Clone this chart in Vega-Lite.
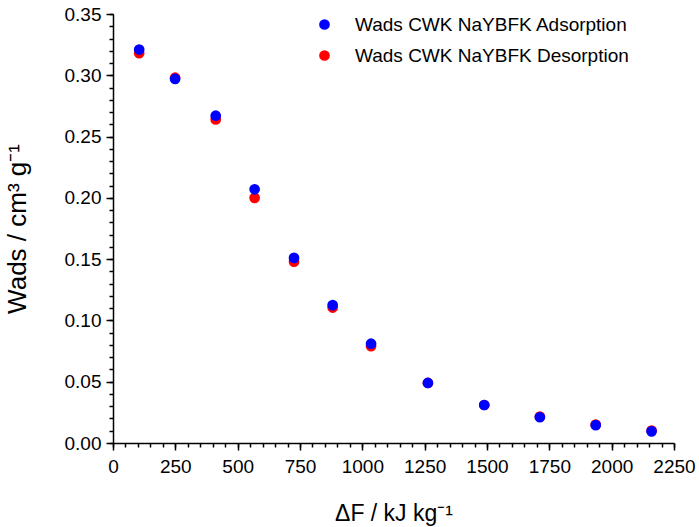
{
  "$schema": "https://vega.github.io/schema/vega-lite/v6.json",
  "autosize": {"type": "none"},
  "padding": {"left": 113, "top": 14, "right": 25, "bottom": 84},
  "width": 561,
  "height": 429,
  "background": "white",
  "config": {
    "view": {"stroke": null},
    "font": "Liberation Sans",
    "axis": {"grid": false, "domainColor": "#000", "tickColor": "#000", "labelColor": "#000", "titleColor": "#000", "domainWidth": 1.5, "tickWidth": 1.5, "labelFont": "Liberation Sans", "titleFont": "Liberation Sans", "titleFontWeight": "normal", "labelOverlap": false, "labelFlush": false, "labelBound": false}
  },
  "data": {
    "values": [
      {"dF": 105, "W": 0.318, "series": "Wads CWK NaYBFK Desorption"},
      {"dF": 249, "W": 0.298, "series": "Wads CWK NaYBFK Desorption"},
      {"dF": 412, "W": 0.264, "series": "Wads CWK NaYBFK Desorption"},
      {"dF": 568, "W": 0.200, "series": "Wads CWK NaYBFK Desorption"},
      {"dF": 726, "W": 0.148, "series": "Wads CWK NaYBFK Desorption"},
      {"dF": 881, "W": 0.1105, "series": "Wads CWK NaYBFK Desorption"},
      {"dF": 1035, "W": 0.079, "series": "Wads CWK NaYBFK Desorption"},
      {"dF": 1263, "W": 0.049, "series": "Wads CWK NaYBFK Desorption"},
      {"dF": 1489, "W": 0.031, "series": "Wads CWK NaYBFK Desorption"},
      {"dF": 1712, "W": 0.0215, "series": "Wads CWK NaYBFK Desorption"},
      {"dF": 1936, "W": 0.015, "series": "Wads CWK NaYBFK Desorption"},
      {"dF": 2160, "W": 0.0102, "series": "Wads CWK NaYBFK Desorption"},
      {"dF": 105, "W": 0.321, "series": "Wads CWK NaYBFK Adsorption"},
      {"dF": 249, "W": 0.297, "series": "Wads CWK NaYBFK Adsorption"},
      {"dF": 412, "W": 0.267, "series": "Wads CWK NaYBFK Adsorption"},
      {"dF": 568, "W": 0.207, "series": "Wads CWK NaYBFK Adsorption"},
      {"dF": 726, "W": 0.151, "series": "Wads CWK NaYBFK Adsorption"},
      {"dF": 881, "W": 0.1125, "series": "Wads CWK NaYBFK Adsorption"},
      {"dF": 1035, "W": 0.081, "series": "Wads CWK NaYBFK Adsorption"},
      {"dF": 1263, "W": 0.049, "series": "Wads CWK NaYBFK Adsorption"},
      {"dF": 1489, "W": 0.031, "series": "Wads CWK NaYBFK Adsorption"},
      {"dF": 1712, "W": 0.021, "series": "Wads CWK NaYBFK Adsorption"},
      {"dF": 1936, "W": 0.0145, "series": "Wads CWK NaYBFK Adsorption"},
      {"dF": 2160, "W": 0.0095, "series": "Wads CWK NaYBFK Adsorption"}
    ]
  },
  "layer": [
    {
      "mark": {"type": "point", "filled": true, "opacity": 0},
      "encoding": {
        "x": {"field": "dF", "type": "quantitative", "scale": {"domain": [0, 2250], "nice": false},
          "axis": {"orient": "bottom", "values": [0,50,100,150,200,250,300,350,400,450,500,550,600,650,700,750,800,850,900,950,1000,1050,1100,1150,1200,1250,1300,1350,1400,1450,1500,1550,1600,1650,1700,1750,1800,1850,1900,1950,2000,2050,2100,2150,2200,2250], "labels": false, "domain": false, "tickSize": 4, "title": null}},
        "y": {"field": "W", "type": "quantitative", "scale": {"domain": [0, 0.35], "nice": false},
          "axis": {"orient": "left", "values": [0,0.01,0.02,0.03,0.04,0.05,0.06,0.07,0.08,0.09,0.1,0.11,0.12,0.13,0.14,0.15,0.16,0.17,0.18,0.19,0.2,0.21,0.22,0.23,0.24,0.25,0.26,0.27,0.28,0.29,0.3,0.31,0.32,0.33,0.34,0.35], "labels": false, "domain": false, "tickSize": 4, "title": null}}
      }
    },
    {
      "mark": {"type": "point", "filled": true, "opacity": 1, "size": 115},
      "encoding": {
        "x": {"field": "dF", "type": "quantitative",
          "axis": {"orient": "bottom", "values": [0,250,500,750,1000,1250,1500,1750,2000,2250], "format": "d", "tickSize": 7, "labelFontSize": 19, "labelPadding": 7, "title": "ΔF / kJ kg⁻¹", "titleFontSize": 23, "titlePadding": 26}},
        "y": {"field": "W", "type": "quantitative",
          "axis": {"orient": "left", "values": [0,0.05,0.1,0.15,0.2,0.25,0.3,0.35], "format": ".2f", "tickSize": 7, "labelFontSize": 19, "labelPadding": 5, "title": "Wads / cm³ g⁻¹", "titleFontSize": 26, "titlePadding": 34}},
        "color": {"field": "series", "type": "nominal",
          "scale": {"domain": ["Wads CWK NaYBFK Adsorption", "Wads CWK NaYBFK Desorption"], "range": ["#0000FF", "#FF0000"]},
          "legend": {"orient": "none", "legendX": 202, "legendY": 1, "title": null, "padding": 0, "symbolType": "circle", "symbolSize": 115, "symbolStrokeWidth": 0, "symbolOpacity": 1, "labelFontSize": 19, "labelFont": "Liberation Sans", "labelColor": "#000", "labelOffset": 21, "labelLimit": 0, "rowPadding": 11}}
      }
    }
  ],
  "resolve": {"axis": {"x": "independent", "y": "independent"}}
}
